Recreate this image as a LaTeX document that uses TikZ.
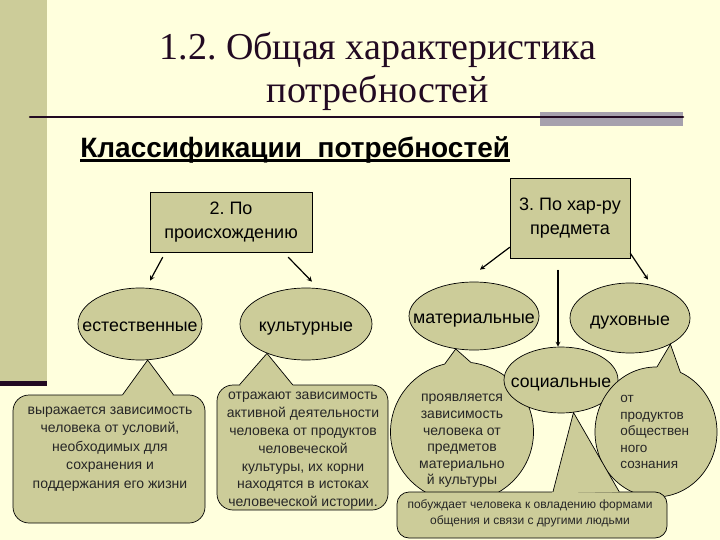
\documentclass[tikz,border=0pt]{standalone}
\usepackage{fontspec}
\setmainfont{Liberation Sans}
\newfontfamily\titlefont{Liberation Serif}
\usetikzlibrary{calc}
\usetikzlibrary{shapes.geometric}
\definecolor{fon}{HTML}{FFFFDD}
\definecolor{oliv}{HTML}{CCCC99}
\definecolor{temn}{HTML}{220A22}
\definecolor{seryj}{HTML}{A6A1AD}
\frenchspacing

\begin{document}
\begin{tikzpicture}[x=1pt,y=-1pt,line width=0.7pt,line cap=round,>=stealth] %% tikz
	\tikzstyle{korob}=[rectangle,draw,fill=oliv,align=center,inner sep=0pt,font=\fontsize{18}{24}\selectfont];
	\tikzstyle{oval}=[ellipse,draw,fill=oliv,inner sep=0pt,text height=16pt,text depth=1pt,font=\fontsize{17.8}{20}\selectfont,execute at begin node={\hbox to 0pt\bgroup\hss},execute at end node={\hss\egroup}];
	\tikzstyle{puz}=[draw,fill=oliv,inner sep=0pt];
	\tikzstyle{tekst}=[align=center,inner sep=0pt,text=black!85];
	\tikzstyle{strel}=[->,line width=1.2pt];
	%% background
	\fill[fon] (0,0) rectangle (720,540);
	\useasboundingbox (0,0) rectangle (720,540);
	\fill[oliv] (0,0) rectangle (47,382);
	\fill[temn] (0,381) rectangle (47,386);
	%% title
	\node[anchor=base,text=temn,font=\titlefont\fontsize{38}{44}\selectfont] (zag1) at (378,60) {1.2. Общая характеристика};
	\node[anchor=base,text=temn,font=\titlefont\fontsize{38}{44}\selectfont] (zag2) at (378,103) {потребностей};
	\fill[seryj] (540,112) rectangle (683,126);
	\draw[temn,line width=2.5pt] (30,117) -- (683,117);
	\node[anchor=base west,inner sep=0pt,font=\bfseries\fontsize{28}{30}\selectfont] (klass) at (80,158) {Классификации\ \ потребностей};
	\draw[line width=2.5pt,line cap=butt] ([yshift=-2.5pt]klass.base west) -- ([yshift=-2.5pt]klass.base east);
	%% boxes
	\node[korob,minimum width=162,minimum height=60] (orig) at (231,222) {2. По\\происхождению};
	\node[korob,minimum width=120,minimum height=80] (pred) at (570,218) {3. По хар-ру\\предмета};
	%% ellipses
	\node[oval,minimum width=124,minimum height=72] (estest) at (140,324) {естественные};
	\node[oval,minimum width=132,minimum height=72] (kult) at (306,324) {культурные};
	\node[oval,minimum width=130,minimum height=68] (mater) at (474,316) {материальные};
	\node[oval,minimum width=120,minimum height=70] (duh) at (630,318) {духовные};
	%% callout of материальные
	\node[puz,ellipse,minimum width=143,minimum height=140] (cb3) at (462,432) {};
	\fill[oliv] (cb3.104) -- (mater.241) -- (cb3.83) -- ($(cb3.83)!2pt!(cb3.center)$) -- ($(cb3.104)!2pt!(cb3.center)$) -- cycle;
	\draw (cb3.104) -- (mater.241) -- (cb3.83);
	\node[tekst,font=\fontsize{14}{16.6}\selectfont] (cb3t) at (462,441) {проявляется\\зависимость\\человека от\\предметов\\материально\\й культуры};
	\node[oval,minimum width=114,minimum height=66,font=\fontsize{17.6}{20}\selectfont] (soc) at (561,380) {социальные};
	%% callout of духовные
	\node[puz,ellipse,minimum width=122,minimum height=130] (cb4) at (656,432) {};
	\fill[oliv] (cb4.89) -- (duh.327) -- (cb4.68) -- ($(cb4.68)!2pt!(cb4.center)$) -- ($(cb4.89)!2pt!(cb4.center)$) -- cycle;
	\draw (cb4.89) -- (duh.327) -- (cb4.68);
	\node[tekst,align=left,anchor=west,font=\fontsize{13.5}{16.5}\selectfont] (cb4t) at (620,432) {от\\продуктов\\обществен\\ного\\сознания};
	%% callout of социальные
	\node[puz,rounded corners=12pt,minimum width=270,minimum height=46] (cb5) at (532,515) {};
	\fill[oliv] (cb5.48) -- (soc.291) -- (cb5.15) -- ($(cb5.15)!2pt!(cb5.center)$) -- ($(cb5.48)!2pt!(cb5.center)$) -- cycle;
	\draw (cb5.48) -- (soc.291) -- (cb5.15);
	\node[tekst,font=\fontsize{12}{16}\selectfont] (cb5t) at (530,513) {побуждает человека к овладению формами\\общения и связи с другими людьми};
	%% callouts of естественные and культурные
	\node[puz,rounded corners=16pt,minimum width=192,minimum height=128] (cb1) at (109,459) {};
	\fill[oliv] (cb1.78) -- (estest.282) -- (cb1.45) -- ($(cb1.45)!2pt!(cb1.center)$) -- ($(cb1.78)!2pt!(cb1.center)$) -- cycle;
	\draw (cb1.78) -- (estest.282) -- (cb1.45);
	\node[tekst,font=\fontsize{14}{18.5}\selectfont] (cb1t) at (110,449) {выражается зависимость\\человека от условий,\\необходимых для\\сохранения и\\поддержания его жизни};
	\node[puz,rounded corners=16pt,minimum width=171,minimum height=125] (cb2) at (302.5,447.5) {};
	\fill[oliv] (cb2.135) -- (kult.217) -- (cb2.99) -- ($(cb2.99)!2pt!(cb2.center)$) -- ($(cb2.135)!2pt!(cb2.center)$) -- cycle;
	\draw (cb2.135) -- (kult.217) -- (cb2.99);
	\node[tekst,font=\fontsize{14}{17.8}\selectfont] (cb2t) at (303,451) {отражают зависимость\\активной деятельности\\человека от продуктов\\человеческой\\культуры, их корни\\находятся в истоках\\человеческой истории.};
	%% arrows
	\draw[strel] ([xshift=13pt,yshift=-5pt]orig.south west) -- ([xshift=10pt,yshift=7pt]estest.north);
	\draw[strel] ([xshift=-24pt,yshift=-5pt]orig.south east) -- ([xshift=6pt,yshift=6pt]kult.north);
	\draw[strel] ([yshift=11pt]pred.south west) -- ([xshift=6pt,yshift=12pt]mater.north);
	\draw[strel] ([yshift=5pt]pred.south east) -- ([xshift=18pt,yshift=3pt]duh.north);
	\draw[strel] ([xshift=-12pt,yshift=-12pt]pred.south) -- ([xshift=-3pt]soc.north);
\end{tikzpicture}
\end{document}
